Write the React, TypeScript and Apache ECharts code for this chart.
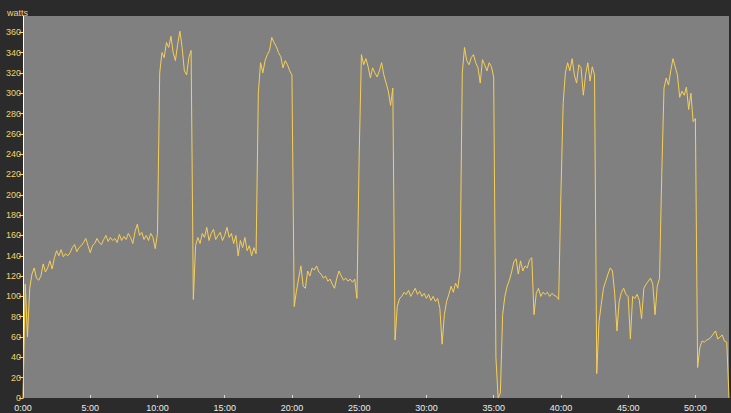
import React, { useEffect, useRef } from 'react';
import * as echarts from 'echarts';

// Sample spacing in seconds for the power trace
const STEP_SECONDS = 10;

// Power (watts), one value every 10 seconds, from 0:00 to 52:30
const watts: number[] = [
  0, 112, 60, 108, 122, 128,
  118, 116, 120, 132, 124, 128,
  135, 127, 138, 145, 140, 146,
  139, 142, 140, 143, 148, 151,
  144, 148, 150, 153, 157, 150,
  143, 150, 152, 157, 153, 151,
  156, 160, 154, 158, 155, 157,
  153, 161, 155, 159, 156, 162,
  158, 152, 164, 171, 160, 163,
  156, 160, 155, 162, 158, 147,
  162, 320, 340, 335, 350, 345,
  356, 340, 332, 348, 361, 345,
  322, 318, 335, 342, 97, 150,
  158, 152, 162, 158, 168, 155,
  162, 166, 156, 160, 163, 155,
  160, 168, 158, 162, 152, 160,
  140, 155, 148, 158, 145, 150,
  140, 148, 142, 300, 330, 320,
  332, 338, 342, 355, 350, 346,
  340, 336, 325, 332, 328, 322,
  318, 90, 105, 118, 130, 110,
  108, 125, 120, 128, 126, 130,
  124, 122, 118, 120, 115, 117,
  112, 108, 118, 125, 120, 116,
  118, 115, 117, 114, 117, 98,
  240, 338, 328, 334, 326, 315,
  325, 320, 316, 322, 330, 318,
  310, 302, 288, 305, 57, 90,
  98, 100, 104, 102, 106, 100,
  104, 108, 102, 105, 100, 103,
  98, 102, 96, 100, 95, 98,
  88, 53, 82, 95, 102, 110,
  104, 113, 108, 125, 320, 345,
  332, 328, 335, 338, 330, 325,
  310, 333, 328, 322, 330, 326,
  316, 40, 0, 5, 82, 100,
  110, 116, 124, 134, 137, 122,
  135, 125, 130, 128, 136, 138,
  82, 103, 108, 100, 104, 102,
  104, 100, 103, 101, 100, 97,
  200, 290, 320, 330, 322, 334,
  318, 310, 328, 325, 298, 318,
  330, 312, 326, 318, 24, 75,
  92, 108, 115, 122, 128, 125,
  103, 66, 95, 104, 108, 102,
  100, 58, 100, 98, 102, 96,
  78, 108, 112, 115, 118, 112,
  82, 110, 118, 220, 305, 315,
  308, 322, 334, 326, 318, 296,
  302, 298, 306, 284, 300, 272,
  275, 30, 50, 56, 55, 57,
  58, 60, 63, 66, 58, 60,
  62, 56, 55, 0,
];

const Y_MAX = 376;
const Y_INTERVAL = 20;
const X_MAX_SECONDS = 3150;
const X_INTERVAL_SECONDS = 300;

const LABEL_YELLOW = '#f2d46b';
const LINE_YELLOW = '#f7cf55';

function fmtTime(sec: number): string {
  const m = Math.floor(sec / 60);
  const s = Math.round(sec - m * 60);
  return `${m}:${s < 10 ? '0' + s : s}`;
}

export default function App() {
  const ref = useRef<HTMLDivElement>(null);

  useEffect(() => {
    if (!ref.current) return;
    const chart = echarts.init(ref.current, undefined, { renderer: 'svg' });
    const data = watts.map((v, i) => [i * STEP_SECONDS, v]);
    chart.setOption({
      animation: false,
      backgroundColor: '#2b2b2b',
      textStyle: { fontFamily: 'Liberation Sans, Arial, sans-serif' },
      title: {
        text: 'watts',
        left: 2,
        top: 3,
        textStyle: { color: LABEL_YELLOW, fontSize: 9, fontWeight: 'normal', fontFamily: 'Liberation Sans, Arial, sans-serif' },
      },
      grid: {
        left: 23,
        right: 2,
        top: 16,
        bottom: 15,
        show: true,
        backgroundColor: '#808080',
        borderWidth: 0,
      },
      xAxis: {
        type: 'value',
        min: 0,
        max: X_MAX_SECONDS,
        interval: X_INTERVAL_SECONDS,
        axisLine: { show: false },
        axisTick: { show: true, inside: true, length: 3, lineStyle: { color: '#d8d8d8' } },
        axisLabel: {
          color: '#ececec',
          fontSize: 9,
          margin: 5,
          showMaxLabel: false,
          formatter: (v: number) => fmtTime(v),
        },
        splitLine: { show: false },
      },
      yAxis: {
        type: 'value',
        min: 0,
        max: Y_MAX,
        interval: Y_INTERVAL,
        axisLine: { show: true, lineStyle: { color: '#ffffff', width: 1 } },
        axisTick: { show: true, length: 4, lineStyle: { color: LABEL_YELLOW } },
        axisLabel: { color: LABEL_YELLOW, fontSize: 9, margin: 2, showMaxLabel: false },
        splitLine: { show: false },
      },
      series: [
        {
          type: 'line',
          data,
          showSymbol: false,
          symbol: 'none',
          lineStyle: { color: LINE_YELLOW, width: 1 },
          itemStyle: { color: LINE_YELLOW },
        },
      ],
    });
    return () => chart.dispose();
  }, []);

  return (
    <div
      ref={ref}
      style={{ position: 'absolute', left: 0, top: 0, width: 731, height: 413 }}
    />
  );
}
